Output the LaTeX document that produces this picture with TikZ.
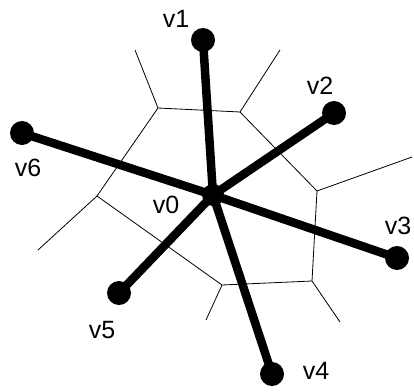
\documentclass[tikz,border=0pt]{standalone}
\usepackage{fontspec}
\setmainfont{Liberation Sans}
\usetikzlibrary{positioning}

\tikzset{
  site/.style={circle, fill=black, inner sep=0pt, minimum size=24pt},
  sitelabel/.style={inner sep=0pt, font=\fontsize{25}{30}\selectfont},
  spoke/.style={line width=8.5pt},
  cell/.style={line width=0.8pt}
}

\begin{document}
\begin{tikzpicture}[x=1pt, y=-1pt]
  \useasboundingbox (0,0) rectangle (414,391);

  % cell of v0 and its outgoing edges
  \coordinate (a) at (158,108);
  \coordinate (b) at (240,112);
  \coordinate (c) at (317,191);
  \coordinate (d) at (312,281);
  \coordinate (e) at (222,285);
  \coordinate (f) at (97,196);
  \coordinate (ra) at (135,50);
  \coordinate (rb) at (280,50);
  \coordinate (rc) at (412,157);
  \coordinate (rd) at (340,322);
  \coordinate (re) at (206,320);
  \coordinate (rf) at (38,250);
  \draw[cell] (a) -- (b) -- (c) -- (d) -- (e) -- (f) -- cycle;
  \foreach \p in {a,b,c,d,e,f}
    \draw[cell] (\p) -- (r\p);

  % sites
  \node[site, minimum size=22pt] (v0) at (213,195) {};
  \node[site] (v1) at (203,40) {};
  \node[site] (v2) at (334,113) {};
  \node[site] (v3) at (397,258) {};
  \node[site] (v4) at (272,374) {};
  \node[site] (v5) at (119,293) {};
  \node[site] (v6) at (22,133) {};
  \foreach \i in {1,...,6}
    \draw[spoke] (v0.center) -- (v\i.center);

  % labels
  \node[sitelabel] (l0) at (166,205) {v0};
  \node[sitelabel] (l1) at (176,19) {v1};
  \node[sitelabel] (l2) at (320,86) {v2};
  \node[sitelabel] (l3) at (398,226) {v3};
  \node[sitelabel] (l4) at (316,371) {v4};
  \node[sitelabel] (l5) at (102,330) {v5};
  \node[sitelabel] (l6) at (28,168) {v6};
\end{tikzpicture}
\end{document}
